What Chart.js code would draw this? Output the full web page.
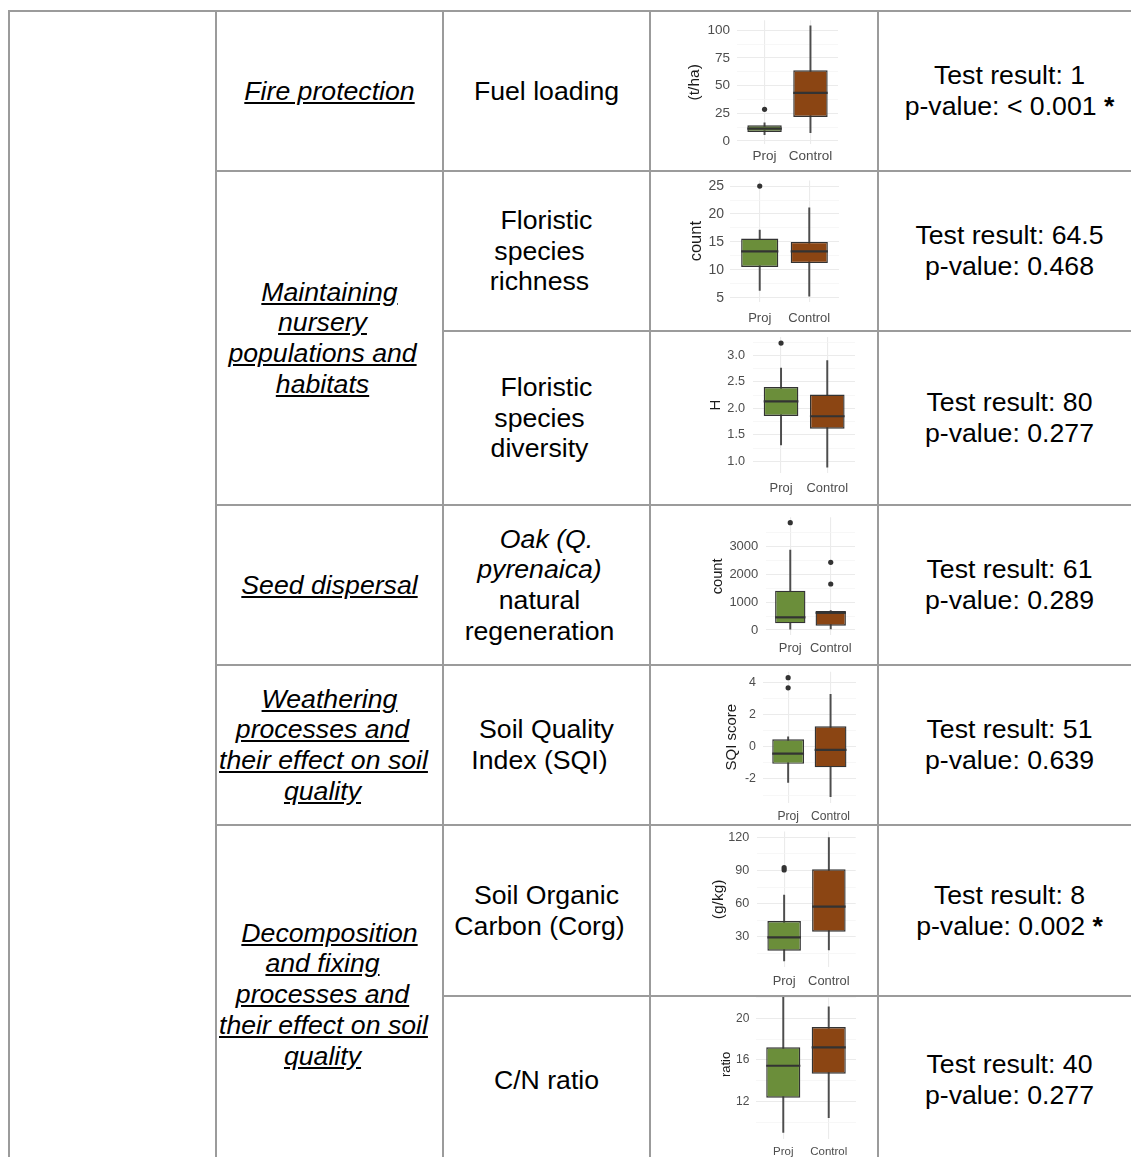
<!DOCTYPE html>
<html>
<head>
<meta charset="utf-8">
<script src="https://cdn.jsdelivr.net/npm/chart.js@4/dist/chart.umd.min.js"></script>
<style>
html,body{margin:0;padding:0;background:#fff;}
body{width:1131px;height:1157px;overflow:hidden;position:relative;font-family:"Liberation Sans",Arial,sans-serif;color:#000;}
.ln{position:absolute;background:#9b9b9b;}
.cell{position:absolute;display:flex;align-items:center;box-sizing:border-box;}
.c2{left:217px;width:225px;padding:0 16px 0 2px;}
.c3{left:444px;width:205px;padding:0 16px 0 2px;}
.c5{left:879px;width:261px;}
.txt{width:100%;text-align:center;font-size:26.67px;line-height:30.67px;white-space:nowrap;}
.ind{text-indent:14px;}
.svc{font-style:italic;text-decoration:underline;}
.plot{position:absolute;overflow:hidden;left:651px;width:226px;background:#fff;}
.plot canvas{position:absolute;left:0;}
</style>
</head>
<body>
<!-- grid lines of the table -->
<div class="ln" style="left:8px;top:10px;width:2px;height:1160px"></div>
<div class="ln" style="left:215px;top:10px;width:2px;height:1160px"></div>
<div class="ln" style="left:442px;top:10px;width:2px;height:1160px"></div>
<div class="ln" style="left:649px;top:10px;width:2px;height:1160px"></div>
<div class="ln" style="left:877px;top:10px;width:2px;height:1160px"></div>
<div class="ln" style="left:1140px;top:10px;width:2px;height:1160px"></div>
<div class="ln" style="left:8px;top:10px;width:1134px;height:2px"></div>
<div class="ln" style="left:215px;top:170px;width:927px;height:2px"></div>
<div class="ln" style="left:442px;top:330px;width:700px;height:2px"></div>
<div class="ln" style="left:215px;top:504px;width:927px;height:2px"></div>
<div class="ln" style="left:215px;top:664px;width:927px;height:2px"></div>
<div class="ln" style="left:215px;top:824px;width:927px;height:2px"></div>
<div class="ln" style="left:442px;top:995px;width:700px;height:2px"></div>

<!-- column 2: ecosystem services -->
<div class="cell c2" style="top:12px;height:158px"><div class="txt ind svc">Fire protection</div></div>
<div class="cell c2" style="top:172px;height:332px"><div class="txt ind svc">Maintaining<br>nursery<br>populations and<br>habitats</div></div>
<div class="cell c2" style="top:506px;height:158px"><div class="txt ind svc">Seed dispersal</div></div>
<div class="cell c2" style="top:666px;height:158px"><div class="txt ind svc">Weathering<br>processes and<br>their effect on soil<br>quality</div></div>
<div class="cell c2" style="top:826px;height:337px"><div class="txt ind svc">Decomposition<br>and fixing<br>processes and<br>their effect on soil<br>quality</div></div>

<!-- column 3: indicators -->
<div class="cell c3" style="top:12px;height:158px"><div class="txt ind">Fuel loading</div></div>
<div class="cell c3" style="top:172px;height:158px"><div class="txt ind">Floristic<br>species<br>richness</div></div>
<div class="cell c3" style="top:332px;height:172px"><div class="txt ind">Floristic<br>species<br>diversity</div></div>
<div class="cell c3" style="top:506px;height:158px"><div class="txt ind"><i>Oak (Q.<br>pyrenaica)</i><br>natural<br>regeneration</div></div>
<div class="cell c3" style="top:666px;height:158px"><div class="txt ind">Soil Quality<br>Index (SQI)</div></div>
<div class="cell c3" style="top:826px;height:169px"><div class="txt ind">Soil Organic<br>Carbon (Corg)</div></div>
<div class="cell c3" style="top:997px;height:166px"><div class="txt ind">C/N ratio</div></div>

<!-- column 5: test results -->
<div class="cell c5" style="top:12px;height:158px"><div class="txt">Test result: 1<br>p-value: &lt; 0.001 <b>*</b></div></div>
<div class="cell c5" style="top:172px;height:158px"><div class="txt">Test result: 64.5<br>p-value: 0.468</div></div>
<div class="cell c5" style="top:332px;height:172px"><div class="txt">Test result: 80<br>p-value: 0.277</div></div>
<div class="cell c5" style="top:506px;height:158px"><div class="txt">Test result: 61<br>p-value: 0.289</div></div>
<div class="cell c5" style="top:666px;height:158px"><div class="txt">Test result: 51<br>p-value: 0.639</div></div>
<div class="cell c5" style="top:826px;height:169px"><div class="txt">Test result: 8<br>p-value: 0.002 <b>*</b></div></div>
<div class="cell c5" style="top:997px;height:166px"><div class="txt">Test result: 40<br>p-value: 0.277</div></div>

<script>
// ---------- DATA ----------
const groups = ['Proj', 'Control'];
const boxColors = ['#6b8e3a', '#8b4513'];
// box stats: [lower whisker, Q1, median, Q3, upper whisker]

const fuelProj = [5.7, 8.1, 11.1, 14.2, 16.3];
const fuelControl = [7.5, 21.7, 43.4, 63.8, 103.9];
const fuelProjOut = [28.6];
const fuelControlOut = [];
const fuelTicks = [0, 25, 50, 75, 100];
const fuelTickLabels = ['0', '25', '50', '75', '100'];

const richProj = [6.3, 10.5, 13.3, 15.6, 17.1];
const richControl = [5.25, 11.2, 13.3, 15.0, 21.1];
const richProjOut = [25.0];
const richControlOut = [];
const richTicks = [5, 10, 15, 20, 25];
const richTickLabels = ['5', '10', '15', '20', '25'];

const divProj = [1.31, 1.855, 2.13, 2.40, 2.76];
const divControl = [0.89, 1.615, 1.85, 2.26, 2.90];
const divProjOut = [3.23];
const divControlOut = [];
const divTicks = [1.0, 1.5, 2.0, 2.5, 3.0];
const divTickLabels = ['1.0', '1.5', '2.0', '2.5', '3.0'];

const oakProj = [30, 240, 457, 1415, 2880];
const oakControl = [40, 155, 620, 684, 700];
const oakProjOut = [3864];
const oakControlOut = [1656, 2438];
const oakTicks = [0, 1000, 2000, 3000];
const oakTickLabels = ['0', '1000', '2000', '3000'];

const sqiProj = [-2.21, -1.06, -0.43, 0.46, 0.62];
const sqiControl = [-3.1, -1.28, -0.2, 1.27, 3.25];
const sqiProjOut = [3.66, 4.29];
const sqiControlOut = [];
const sqiTicks = [-2, 0, 2, 4];
const sqiTickLabels = ['-2', '0', '2', '4'];

const socProj = [8.0, 17.3, 29.4, 44.2, 67.8];
const socControl = [18.0, 34.5, 57.2, 91.0, 119.7];
const socProjOut = [90.5, 92.5];
const socControlOut = [];
const socTicks = [30, 60, 90, 120];
const socTickLabels = ['30', '60', '90', '120'];

const cnProj = [9.06, 12.38, 15.45, 17.22, 22.3];
const cnControl = [10.46, 14.69, 17.22, 19.17, 21.1];
const cnProjOut = [];
const cnControlOut = [];
const cnTicks = [12, 16, 20];
const cnTickLabels = ['12', '16', '20'];

// ---------- LAYOUT / STYLE ----------
const FONT = "'Liberation Sans', Arial, sans-serif";
Chart.defaults.font.family = FONT;
const CANVAS_LEFT = 651, CANVAS_W = 226, CANVAS_RIGHT = 877;

const plots = [
  {title:'(t/ha)', stats:[fuelProj, fuelControl], out:[fuelProjOut, fuelControlOut], ticks:fuelTicks, labels:fuelTickLabels, yMin:-3, yMax:109,
   wrapTop:12, wrapH:158, cTop:12, cH:158, pl:737, pr:838, pt:20.3, pb:144.3, tickPad:7, titleX:695, xPad:4, fsT:13.5, fsX:13.5, fsTi:15.5},
  {title:'count', stats:[richProj, richControl], out:[richProjOut, richControlOut], ticks:richTicks, labels:richTickLabels, yMin:4.26, yMax:26,
   wrapTop:172, wrapH:158, cTop:172, cH:158, pl:730, pr:839, pt:180.5, pb:301.8, tickPad:6, titleX:696.7, xPad:8.4, fsT:14, fsX:13, fsTi:16.5},
  {title:'H', stats:[divProj, divControl], out:[divProjOut, divControlOut], ticks:divTicks, labels:divTickLabels, yMin:0.773, yMax:3.347,
   wrapTop:332, wrapH:172, cTop:332, cH:172, pl:753.3, pr:855, pt:336.9, pb:473.3, tickPad:8.3, titleX:716, xPad:7, fsT:12.7, fsX:12.9, fsTi:15},
  {title:'count', stats:[oakProj, oakControl], out:[oakProjOut, oakControlOut], ticks:oakTicks, labels:oakTickLabels, yMin:-193, yMax:4057,
   wrapTop:506, wrapH:158, cTop:506, cH:158, pl:766, pr:855, pt:517.3, pb:635.4, tickPad:7.7, titleX:718.3, xPad:5.2, fsT:13, fsX:12.9, fsTi:14.7},
  {title:'SQI score', stats:[sqiProj, sqiControl], out:[sqiProjOut, sqiControlOut], ticks:sqiTicks, labels:sqiTickLabels, yMin:-3.47, yMax:4.66,
   wrapTop:666, wrapH:158, cTop:666, cH:158, pl:762.7, pr:856, pt:671.7, pb:802.6, tickPad:6.7, titleX:731.7, xPad:6.8, fsT:12.4, fsX:12.1, fsTi:15},
  {title:'(g/kg)', stats:[socProj, socControl], out:[socProjOut, socControlOut], ticks:socTicks, labels:socTickLabels, yMin:2.4, yMax:125.3,
   wrapTop:826, wrapH:169, cTop:826, cH:169, pl:757.3, pr:855.7, pt:831.5, pb:967.2, tickPad:8, titleX:718.3, xPad:6.8, fsT:12.6, fsX:12.9, fsTi:15.5},
  {title:'ratio', stats:[cnProj, cnControl], out:[cnProjOut, cnControlOut], ticks:cnTicks, labels:cnTickLabels, yMin:8.4, yMax:22.75,
   wrapTop:997, wrapH:166, cTop:980, cH:183, pl:756, pr:856, pt:989.7, pb:1139.2, tickPad:6.7, titleX:726.7, xPad:5.6, fsT:12, fsX:11.5, fsTi:13}
];

const medianPlugin = {
  id: 'medianLines',
  afterDatasetsDraw(chart) {
    const ds = chart.data.datasets[1];
    const meta = chart.getDatasetMeta(1);
    const y = chart.scales.y;
    const ctx = chart.ctx;
    ctx.save();
    ctx.strokeStyle = '#333333';
    ctx.lineWidth = 2.2;
    meta.data.forEach((bar, i) => {
      const py = y.getPixelForValue(ds.medians[i]);
      ctx.beginPath();
      ctx.moveTo(bar.x - bar.width / 2, py);
      ctx.lineTo(bar.x + bar.width / 2, py);
      ctx.stroke();
    });
    ctx.restore();
  }
};

function minorTicks(t, lo, hi) {
  const step = t[1] - t[0];
  const res = [t[0] - step / 2];
  for (let i = 0; i < t.length - 1; i++) res.push((t[i] + t[i + 1]) / 2);
  res.push(t[t.length - 1] + step / 2);
  return res.filter(v => v >= lo && v <= hi);
}

plots.forEach(p => {
  const wrap = document.createElement('div');
  wrap.className = 'plot';
  wrap.style.top = p.wrapTop + 'px';
  wrap.style.height = p.wrapH + 'px';
  const cv = document.createElement('canvas');
  cv.width = CANVAS_W; cv.height = p.cH;
  cv.style.width = CANVAS_W + 'px'; cv.style.height = p.cH + 'px';
  cv.style.top = (p.cTop - p.wrapTop) + 'px';
  wrap.appendChild(cv);
  document.body.appendChild(wrap);

  const cBottom = p.cTop + p.cH;
  const minors = minorTicks(p.ticks, p.yMin, p.yMax);
  const allTicks = p.ticks.concat(minors).sort((a, b) => a - b);
  const isMajor = v => p.ticks.indexOf(v) >= 0;

  const outPts = [];
  p.out.forEach((arr, i) => arr.forEach(v => outPts.push({x: i + 1, y: v})));

  new Chart(cv, {
    type: 'bar',
    data: {
      datasets: [
        {type: 'scatter', order: 1, data: outPts, pointRadius: 2.6, pointBackgroundColor: '#333333', pointBorderColor: '#333333', pointBorderWidth: 0},
        {type: 'bar', order: 2, grouped: false, data: p.stats.map((s, i) => ({x: i + 1, y: [s[1], s[3]]})),
         medians: p.stats.map(s => s[2]),
         backgroundColor: boxColors, borderColor: '#333333', borderWidth: 1.4, borderSkipped: false,
         barPercentage: 0.75, categoryPercentage: 1},
        {type: 'bar', order: 3, grouped: false, data: p.stats.map((s, i) => ({x: i + 1, y: [s[0], s[4]]})),
         backgroundColor: '#4d4d4d', borderWidth: 0, maxBarThickness: 1.3, barPercentage: 1, categoryPercentage: 1}
      ]
    },
    options: {
      responsive: false, animation: false, events: [],
      layout: {autoPadding: false, padding: {left: 0, top: p.pt - p.cTop, right: CANVAS_RIGHT - p.pr, bottom: 0}},
      plugins: {legend: {display: false}, tooltip: {enabled: false}},
      scales: {
        x: {
          type: 'linear', min: 0.4, max: 2.6, offset: false, bounds: 'data',
          afterBuildTicks: s => { s.ticks = groups.map((g, i) => ({value: i + 1})); },
          afterFit: s => { s.height = cBottom - p.pb; s.paddingLeft = 0; s.paddingRight = 0; s.paddingTop = 0; s.paddingBottom = 0; },
          ticks: {autoSkip: false, maxRotation: 0, minRotation: 0, padding: p.xPad, color: '#4d4d4d',
                  font: {family: FONT, size: p.fsX}, callback: v => groups[Math.round(v) - 1] || ''},
          grid: {color: '#ebebeb', lineWidth: 1.1, drawTicks: false, offset: false},
          border: {display: false}
        },
        y: {
          type: 'linear', min: p.yMin, max: p.yMax, bounds: 'data',
          afterBuildTicks: s => { s.ticks = allTicks.map(v => ({value: v})); },
          afterFit: s => { s.width = p.pl - CANVAS_LEFT; s.paddingTop = 0; s.paddingBottom = 0; s.paddingLeft = 0; s.paddingRight = 0; },
          ticks: {autoSkip: false, padding: p.tickPad, color: '#4d4d4d', font: {family: FONT, size: p.fsT},
                  callback: v => { const k = p.ticks.indexOf(v); return k >= 0 ? p.labels[k] : ''; }},
          grid: {color: c => isMajor(c.tick.value) ? '#ebebeb' : '#f3f3f3',
                 lineWidth: c => isMajor(c.tick.value) ? 1.1 : 0.7, drawTicks: false},
          border: {display: false},
          title: {display: true, text: p.title, color: '#1a1a1a', font: {family: FONT, size: p.fsTi},
                  padding: {top: p.titleX - CANVAS_LEFT - p.fsTi * 0.6, bottom: 0}}
        }
      }
    },
    plugins: [medianPlugin]
  });
});
</script>
</body>
</html>
